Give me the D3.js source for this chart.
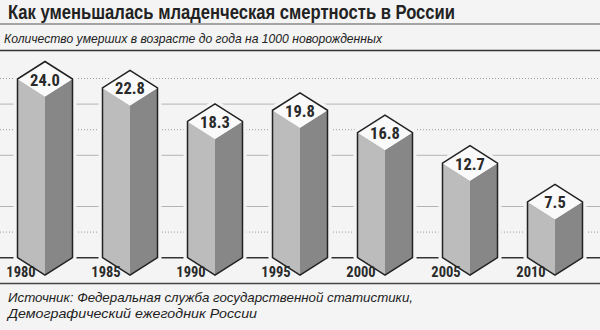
<!DOCTYPE html>
<html><head><meta charset="utf-8">
<script src="https://cdn.jsdelivr.net/npm/d3@7"></script>
<style>
html,body{margin:0;padding:0;background:#f4f4f4;}
svg{display:block;}
</style></head>
<body>
<script>
const title = "Как уменьшалась младенческая смертность в России";
const subtitle = "Количество умерших в возрасте до года на 1000 новорожденных";
const sourceLines = ["Источник: Федеральная служба государственной статистики,", "Демографический ежегодник России"];
const years = ["1980","1985","1990","1995","2000","2005","2010"];
const values = [24.0, 22.8, 18.3, 19.8, 16.8, 12.7, 7.5];
const valueLabels = ["24.0","22.8","18.3","19.8","16.8","12.7","7.5"];

const W = 600, H = 330;
const bg = "#f4f4f4";
const svg = d3.select("body").append("svg").attr("width", W).attr("height", H);
svg.append("rect").attr("width", W).attr("height", H).attr("fill", bg);

const narrow = "'Liberation Sans Narrow','Roboto Condensed','DejaVu Sans Condensed','Liberation Sans',sans-serif";
const italicFam = "'Liberation Sans',Arial,sans-serif";

// Title
svg.append("text").attr("x", 8).attr("y", 18.5)
  .attr("font-family", "'Liberation Sans',Arial,sans-serif").attr("font-weight", "bold")
  .attr("font-size", 19.5).attr("fill", "#222")
  .attr("textLength", 447).attr("lengthAdjust", "spacingAndGlyphs").text(title);
svg.append("line").attr("x1", 0).attr("x2", W).attr("y1", 24).attr("y2", 24)
  .attr("stroke", "#8a8a8a").attr("stroke-width", 1.5);
svg.append("text").attr("x", 4).attr("y", 42.5)
  .attr("font-family", italicFam).attr("font-style", "italic")
  .attr("font-size", 13.5).attr("fill", "#222")
  .attr("textLength", 378).attr("lengthAdjust", "spacingAndGlyphs").text(subtitle);
svg.append("line").attr("x1", 0).attr("x2", W).attr("y1", 50.5).attr("y2", 50.5)
  .attr("stroke", "#333").attr("stroke-width", 1.6);

// Scales
const x = d3.scalePoint().domain(years).range([45, 555]);
const y = d3.scaleLinear().domain([0, 24]).range([257.7, 79]);
const w = 27.5, h = 17.5;
const base = y(0);

// Gridlines (decorative, pixel rhythm of the original)
const gridStep = 25.6;
const grid = [
  {k:1, dash:true}, {k:2, dash:false}, {k:4, dash:false}, {k:5, dash:true},
  {k:6, dash:false}, {k:7, dash:true}
];
const gg = svg.append("g");
grid.forEach(g => {
  gg.append("line").attr("x1", 0).attr("x2", W)
    .attr("y1", base - g.k*gridStep).attr("y2", base - g.k*gridStep)
    .attr("stroke", g.dash ? "#9a9a9a" : "#b4b4b4")
    .attr("stroke-width", 1)
    .attr("stroke-dasharray", g.dash ? "1,2" : null);
});
gg.append("line").attr("x1", 0).attr("x2", W).attr("y1", base).attr("y2", base)
  .attr("stroke", "#333").attr("stroke-width", 1.5);

const data = years.map((yr, i) => ({yr, v: values[i], lab: valueLabels[i]}));

function silhouette(d) {
  const cx = x(d.yr), t = y(d.v);
  return `M${cx},${t-h} L${cx+w},${t} L${cx+w},${base} L${cx},${base+h} L${cx-w},${base} L${cx-w},${t} Z`;
}

const bars = svg.append("g").selectAll("g").data(data).join("g");
bars.append("path").attr("d", silhouette).attr("fill", bg).attr("stroke", bg).attr("stroke-width", 8);
bars.append("path").attr("fill", "#bcbcbc").attr("d", d => {
  const cx = x(d.yr), t = y(d.v);
  return `M${cx-w},${t} L${cx},${t+h} L${cx},${base+h} L${cx-w},${base} Z`;
});
bars.append("path").attr("fill", "#878787").attr("d", d => {
  const cx = x(d.yr), t = y(d.v);
  return `M${cx},${t+h} L${cx+w},${t} L${cx+w},${base} L${cx},${base+h} Z`;
});
bars.append("path").attr("fill", "#fafafa").attr("d", d => {
  const cx = x(d.yr), t = y(d.v);
  return `M${cx},${t-h} L${cx+w},${t} L${cx},${t+h} L${cx-w},${t} Z`;
});
bars.append("path").attr("d", silhouette).attr("fill", "none")
  .attr("stroke", "#222").attr("stroke-width", 1.5).attr("stroke-linejoin", "miter");

bars.append("text").attr("x", d => x(d.yr)).attr("y", d => y(d.v) + 6.5)
  .attr("text-anchor", "middle").attr("font-family", narrow).attr("font-weight", "bold")
  .attr("font-size", 16.5).attr("fill", "#2a2a2a").text(d => d.lab);

bars.append("text").attr("x", d => x(d.yr) - 24).attr("y", base + 19.5)
  .attr("text-anchor", "middle").attr("font-family", narrow).attr("font-weight", "bold")
  .attr("font-size", 14.5).attr("fill", "#2a2a2a").text(d => d.yr);

// Bottom rule and source
svg.append("line").attr("x1", 0).attr("x2", W).attr("y1", 283.5).attr("y2", 283.5)
  .attr("stroke", "#444").attr("stroke-width", 1.5);
svg.append("text").attr("x", 8).attr("y", 302)
  .attr("font-family", italicFam).attr("font-style", "italic").attr("font-size", 13.5).attr("fill", "#222")
  .attr("textLength", 405).attr("lengthAdjust", "spacingAndGlyphs").text(sourceLines[0]);
svg.append("text").attr("x", 8).attr("y", 318)
  .attr("font-family", italicFam).attr("font-style", "italic").attr("font-size", 13.5).attr("fill", "#222")
  .attr("textLength", 249).attr("lengthAdjust", "spacingAndGlyphs").text(sourceLines[1]);
</script>
</body></html>
